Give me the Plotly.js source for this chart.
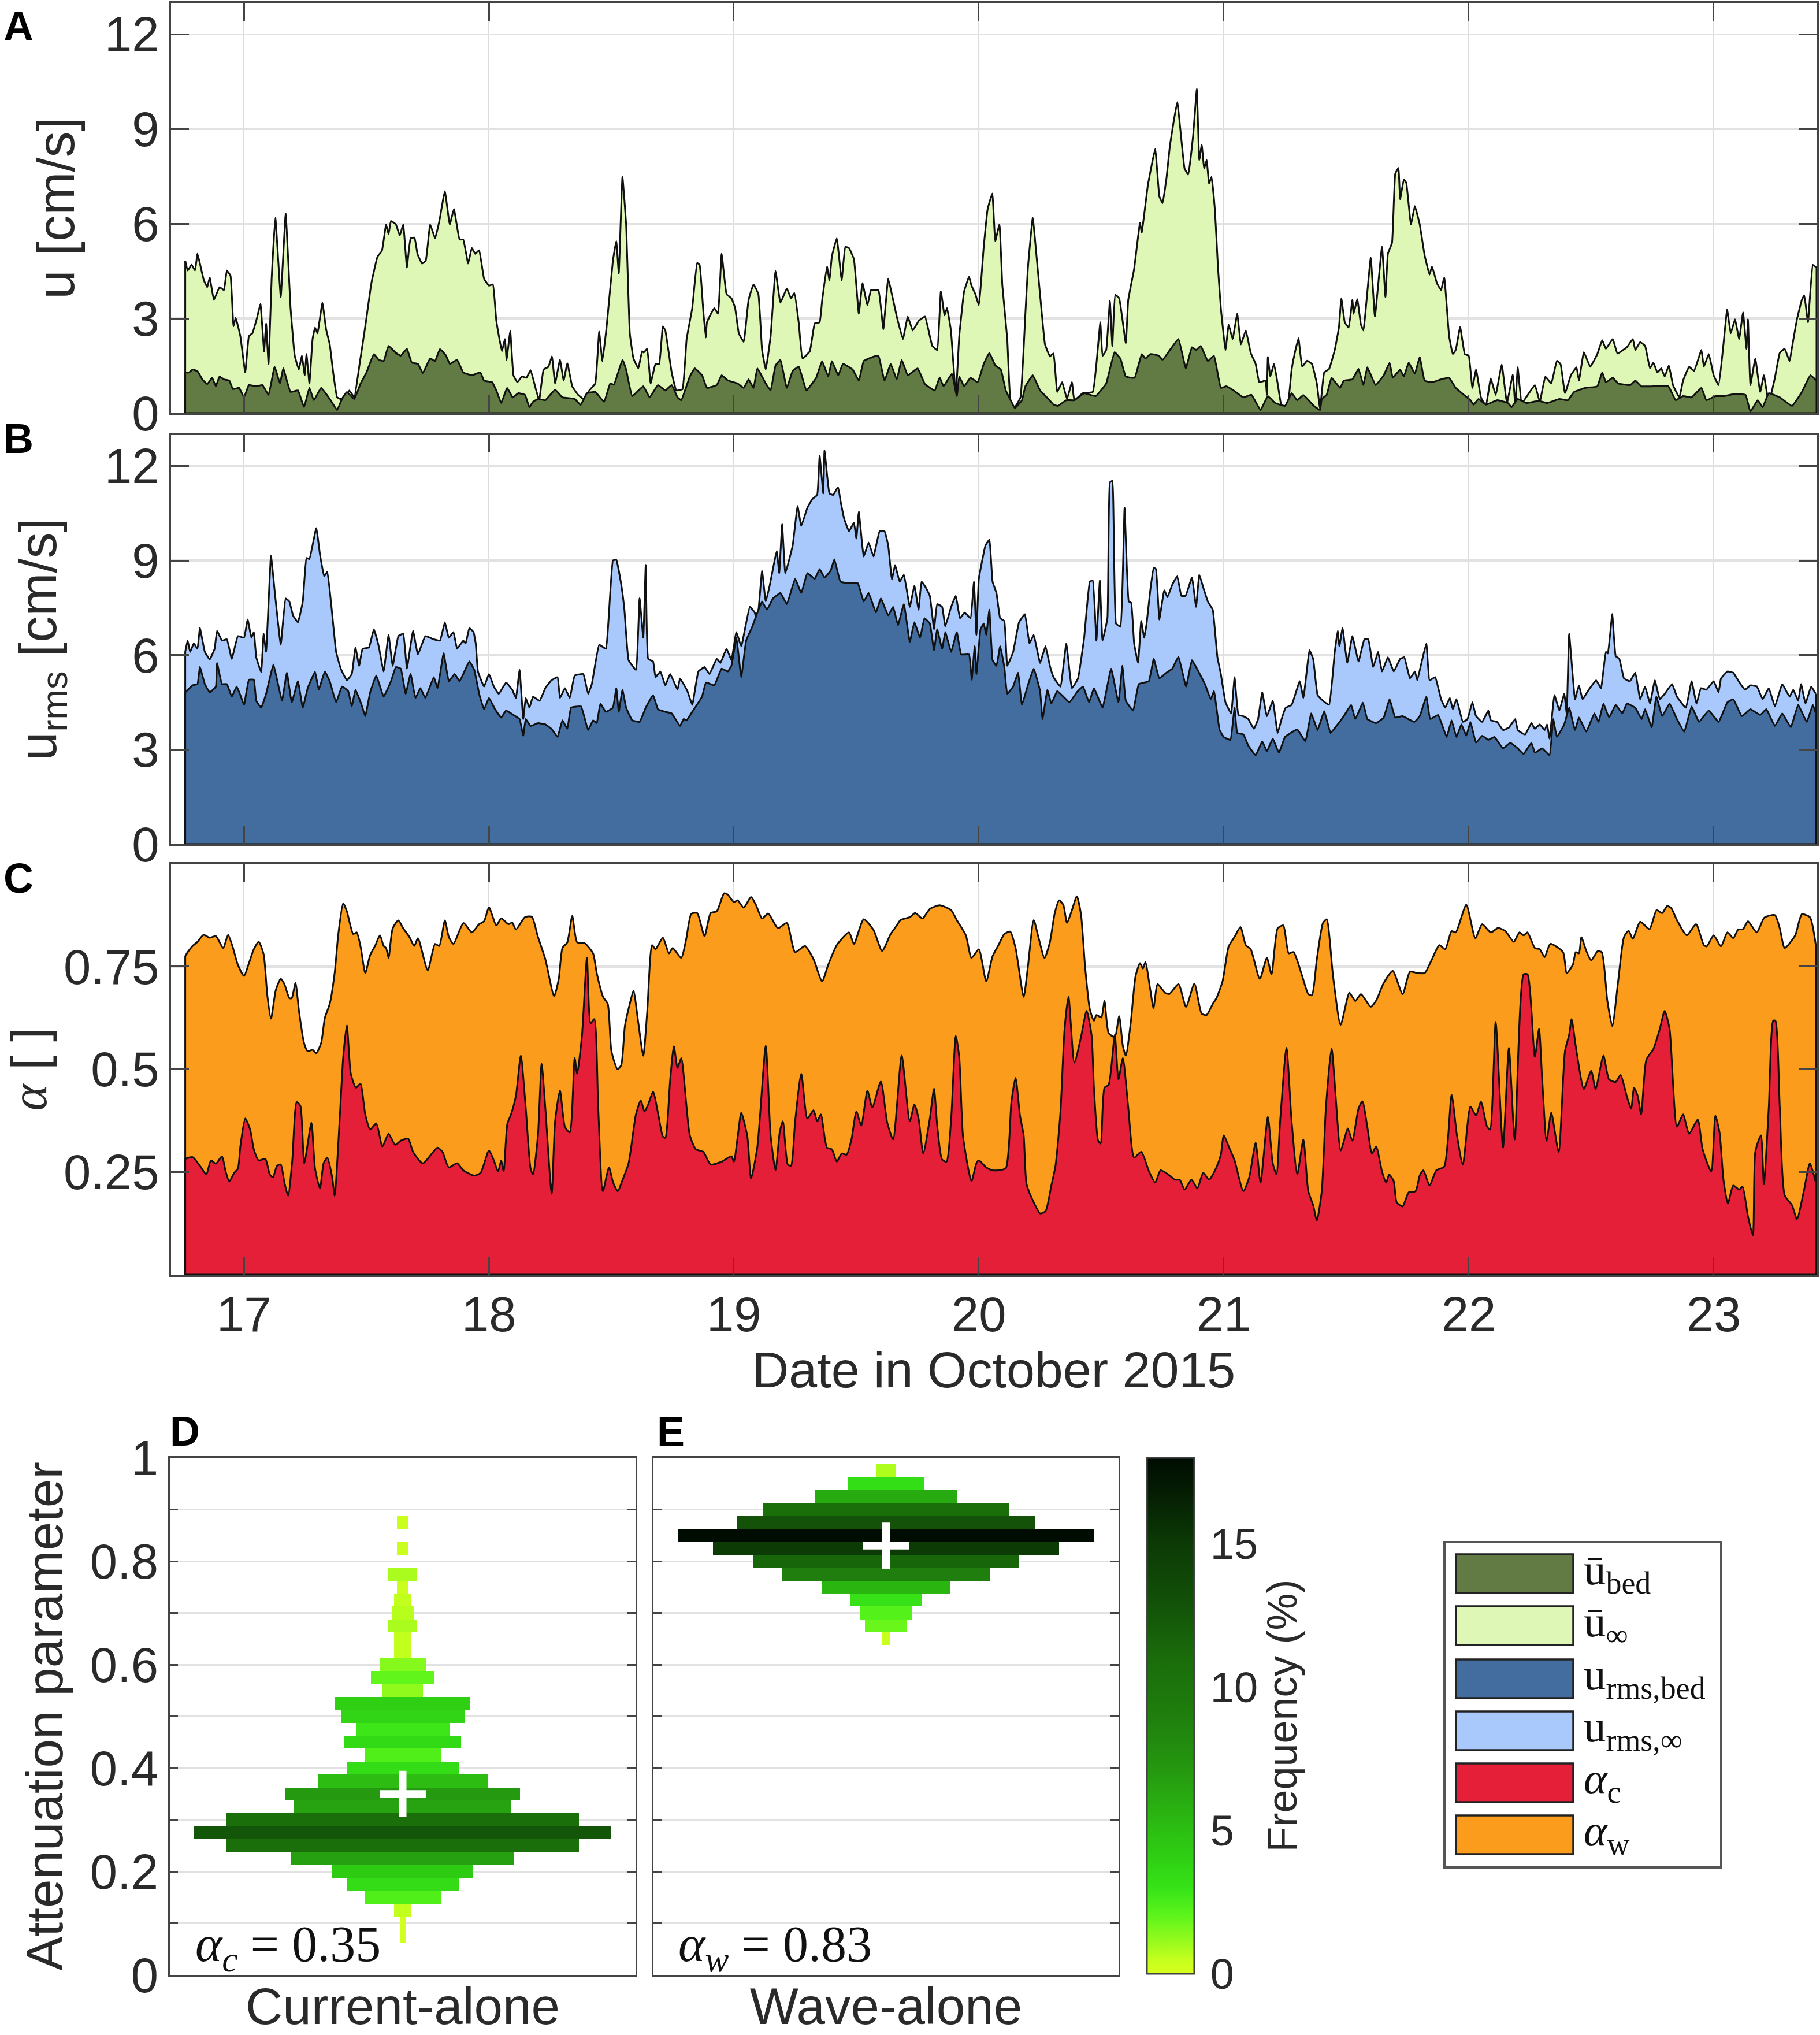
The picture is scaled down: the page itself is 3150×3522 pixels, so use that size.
<!DOCTYPE html>
<html><head><meta charset="utf-8">
<script src="https://cdn.plot.ly/plotly-3.0.1.min.js"></script>
<style>html,body{margin:0;padding:0;background:#fff}</style></head>
<body><div id="chart" style="width:3150px;height:3522px"></div>
<script>
const uInfPts=[[16.76,4.83],[16.77,4.52],[16.786,4.7],[16.8,4.52],[16.81,5.05],[16.82,4.74],[16.836,4.21],[16.85,3.99],[16.86,4.3],[16.877,3.59],[16.9,3.99],[16.918,3.9],[16.93,4.52],[16.945,4.35],[16.957,2.75],[16.966,3.02],[16.985,2.44],[17.005,1.29],[17.02,2.44],[17.034,2.53],[17.053,3.02],[17.067,3.46],[17.082,1.96],[17.09,2.84],[17.1,1.56],[17.113,4.3],[17.128,6.2],[17.15,3.68],[17.17,6.32],[17.19,3.33],[17.207,1.82],[17.224,1.38],[17.236,1.82],[17.248,1.2],[17.255,1.87],[17.267,0.94],[17.28,2.35],[17.29,2.71],[17.3,2.53],[17.32,3.5],[17.335,2.66],[17.35,2.18],[17.364,1.29],[17.38,0.5],[17.395,0.45],[17.41,0.47],[17.43,0.72],[17.45,0.5],[17.472,1.56],[17.496,2.8],[17.52,4.12],[17.545,4.96],[17.563,5.14],[17.58,5.98],[17.59,5.67],[17.6,6.09],[17.62,5.98],[17.636,5.63],[17.65,5.98],[17.665,4.61],[17.68,5.54],[17.696,5.56],[17.708,5.05],[17.727,4.74],[17.742,4.83],[17.76,5.98],[17.78,5.54],[17.797,6.07],[17.82,7.03],[17.84,5.98],[17.857,6.47],[17.88,5.5],[17.895,5.5],[17.915,4.74],[17.93,5.23],[17.944,5.05],[17.96,5.16],[17.98,4.26],[18,4.04],[18.016,4.08],[18.03,2.93],[18.053,1.96],[18.065,2.35],[18.072,1.69],[18.087,2.6],[18.1,1.2],[18.116,0.98],[18.134,1.16],[18.153,1.12],[18.17,1.36],[18.19,0.8],[18.205,0.41],[18.223,1.38],[18.243,1.47],[18.257,1.8],[18.27,0.94],[18.29,1.69],[18.305,1.03],[18.32,1.58],[18.34,0.85],[18.364,0.58],[18.386,0.45],[18.41,0.72],[18.434,0.94],[18.45,2.58],[18.463,1.65],[18.48,2.71],[18.506,4.83],[18.52,5.45],[18.53,4.43],[18.545,7.49],[18.56,5.98],[18.575,2.53],[18.59,1.73],[18.61,1.42],[18.625,1.96],[18.632,1.92],[18.646,2.04],[18.66,0.94],[18.68,1.56],[18.695,1.56],[18.71,2.75],[18.72,2.62],[18.746,1.29],[18.765,0.72],[18.79,0.76],[18.807,2.35],[18.83,3.33],[18.85,4.76],[18.86,4.7],[18.875,3.24],[18.885,2.4],[18.89,2.88],[18.92,3.33],[18.935,3.15],[18.95,5.05],[18.97,3.77],[18.99,3.64],[19.005,3.33],[19.02,2.53],[19.04,2.26],[19.06,3.59],[19.08,4.08],[19.1,3.77],[19.115,2],[19.13,1.38],[19.15,2.44],[19.17,4.5],[19.19,3.5],[19.216,3.95],[19.233,3.64],[19.247,3.81],[19.265,2.84],[19.28,1.73],[19.31,1.96],[19.33,2.84],[19.35,2.88],[19.36,3.55],[19.38,4.65],[19.39,4.21],[19.4,4.96],[19.42,5.54],[19.44,4.21],[19.455,5.27],[19.47,5.23],[19.49,4.88],[19.51,3.15],[19.525,4.12],[19.545,3.42],[19.56,3.9],[19.59,3.9],[19.61,2.66],[19.63,4.26],[19.65,3.59],[19.665,3.06],[19.69,2.35],[19.71,3.06],[19.73,2.62],[19.755,2.93],[19.78,3.06],[19.81,2.13],[19.83,2],[19.845,3.86],[19.86,3.1],[19.87,3.33],[19.886,2.62],[19.906,0.58],[19.92,2.44],[19.94,3.86],[19.96,4.32],[19.97,4.04],[19.986,3.77],[20,3.42],[20.02,5.27],[20.036,6.47],[20.055,6.96],[20.067,5.45],[20.084,5.98],[20.096,4.04],[20.116,2.35],[20.13,0.32],[20.147,0.19],[20.17,0.5],[20.19,3.15],[20.2,4.57],[20.22,6.19],[20.236,4.93],[20.255,3.33],[20.27,2.18],[20.29,1.8],[20.305,1.89],[20.32,0.67],[20.34,0.98],[20.36,0.45],[20.38,0.98],[20.39,0.41],[20.424,0.63],[20.465,0.67],[20.48,1.56],[20.496,2.88],[20.505,1.82],[20.52,2],[20.535,3.55],[20.545,2.13],[20.557,3.75],[20.573,3.64],[20.6,2.22],[20.61,3.59],[20.634,4.57],[20.658,6.03],[20.665,5.72],[20.69,7.22],[20.72,8.37],[20.737,6.87],[20.75,6.65],[20.766,7.44],[20.78,8.46],[20.81,9.85],[20.84,7.75],[20.855,7.56],[20.875,8.81],[20.89,10.27],[20.9,8.02],[20.91,8.5],[20.92,7.75],[20.93,8.02],[20.94,7.27],[20.95,7.49],[20.964,6.42],[20.976,4.65],[20.988,3.33],[21.007,2],[21.02,2.8],[21.036,2.35],[21.055,3.15],[21.07,2.18],[21.09,2.62],[21.11,1.91],[21.13,1.56],[21.145,0.98],[21.17,1.03],[21.176,0.58],[21.18,1.78],[21.19,1.16],[21.205,1.56],[21.22,0.94],[21.236,0.23],[21.26,0.23],[21.277,1.38],[21.29,1.91],[21.305,2.37],[21.32,1.47],[21.34,1.66],[21.36,1.56],[21.38,0.94],[21.393,0.14],[21.41,1.29],[21.43,1.4],[21.453,2],[21.47,2.71],[21.48,3.64],[21.494,2.88],[21.51,2.71],[21.525,3.59],[21.53,3.15],[21.545,3.61],[21.56,2.8],[21.57,2.62],[21.6,4.92],[21.617,3.06],[21.646,5.27],[21.66,3.68],[21.67,5.05],[21.687,5.4],[21.7,7.58],[21.713,7.77],[21.72,6.78],[21.735,7.4],[21.745,7.3],[21.764,5.98],[21.78,6.56],[21.8,5.98],[21.82,5],[21.84,4.39],[21.85,4.65],[21.87,4.12],[21.887,3.9],[21.9,4.3],[21.92,2.44],[21.935,1.87],[21.947,2],[21.965,2.73],[21.984,1.87],[22,1.82],[22.015,0.8],[22.03,1.38],[22.05,0.5],[22.07,0.23],[22.09,1.1],[22.11,0.58],[22.135,1.54],[22.156,0.32],[22.18,1.22],[22.19,0.23],[22.2,1.45],[22.217,0.32],[22.27,0.89],[22.29,0.36],[22.313,1.16],[22.337,0.94],[22.36,1.66],[22.375,1.55],[22.393,0.63],[22.417,1.2],[22.44,1.45],[22.45,1.03],[22.47,1.93],[22.496,1.47],[22.525,1.87],[22.545,2.31],[22.56,2.04],[22.588,2.35],[22.607,1.89],[22.646,2.09],[22.67,2.35],[22.68,2],[22.7,2.25],[22.72,2.13],[22.74,1.42],[22.754,1.6],[22.77,1.29],[22.786,1.42],[22.8,1.16],[22.817,1.51],[22.834,0.89],[22.86,0.5],[22.875,1.03],[22.9,1.47],[22.92,1.34],[22.95,2],[22.96,1.47],[22.98,1.87],[23,1.2],[23.02,0.89],[23.04,2.18],[23.055,3.28],[23.07,2.53],[23.087,2.97],[23.104,2.35],[23.12,3.19],[23.134,2.04],[23.14,2.97],[23.15,0.89],[23.17,1.73],[23.19,0.67],[23.205,1.2],[23.225,0.32],[23.25,1.12],[23.27,1.91],[23.29,2.04],[23.31,1.65],[23.32,2.09],[23.34,2.97],[23.36,3.59],[23.37,3.73],[23.385,2.88],[23.405,4.7],[23.42,4.61]];
const uBedPts=[[16.76,1.29],[16.775,1.29],[16.79,1.38],[16.81,1.33],[16.83,1.07],[16.85,0.92],[16.87,1.12],[16.885,0.85],[16.9,1.16],[16.918,1.07],[16.94,1.03],[16.955,0.76],[16.98,0.8],[17,0.5],[17.02,0.89],[17.05,0.85],[17.075,0.89],[17.1,0.58],[17.125,1.47],[17.147,0.94],[17.16,1.42],[17.19,0.67],[17.22,0.72],[17.245,0.19],[17.267,0.8],[17.285,0.41],[17.315,0.8],[17.35,0.45],[17.38,0.1],[17.4,0.45],[17.42,0.67],[17.45,0.45],[17.476,0.94],[17.5,1.29],[17.53,1.87],[17.55,1.69],[17.57,1.65],[17.59,2.13],[17.62,1.91],[17.64,1.82],[17.665,2.04],[17.685,1.6],[17.71,1.56],[17.73,1.27],[17.76,1.73],[17.78,1.65],[17.8,2.03],[17.825,1.82],[17.84,1.56],[17.87,1.69],[17.895,1.29],[17.93,1.2],[17.965,1.29],[17.98,1.03],[18.013,0.98],[18.03,0.72],[18.05,0.32],[18.074,0.8],[18.097,0.5],[18.12,0.63],[18.147,0.58],[18.165,0.19],[18.18,0.36],[18.2,0.45],[18.23,0.41],[18.27,0.74],[18.3,0.5],[18.35,0.45],[18.374,0.26],[18.4,0.63],[18.434,0.67],[18.47,0.36],[18.495,0.94],[18.51,0.9],[18.545,1.69],[18.56,1.38],[18.585,0.54],[18.63,0.85],[18.656,0.5],[18.69,0.89],[18.72,0.72],[18.746,0.89],[18.77,0.5],[18.785,0.41],[18.82,1.16],[18.84,1.42],[18.87,1.2],[18.89,0.8],[18.93,0.89],[18.95,1.2],[18.975,1.04],[19.015,0.94],[19.04,0.8],[19.06,1.07],[19.08,0.8],[19.096,1.42],[19.13,0.94],[19.15,0.72],[19.17,1.51],[19.19,1.69],[19.216,0.8],[19.24,1.34],[19.265,1.47],[19.296,0.72],[19.336,1.12],[19.36,1.65],[19.385,1.16],[19.4,1.65],[19.426,1.2],[19.445,1.56],[19.485,1.38],[19.51,1.03],[19.53,1.65],[19.567,1.78],[19.59,1.82],[19.615,1.03],[19.64,1.56],[19.665,1.07],[19.685,1.69],[19.71,1.2],[19.75,1.42],[19.78,0.92],[19.82,0.72],[19.84,1.13],[19.856,0.85],[19.89,1.25],[19.91,0.54],[19.92,1.16],[19.94,0.85],[19.966,1.12],[19.995,0.98],[20.02,1.56],[20.043,1.91],[20.067,1.51],[20.09,1.38],[20.11,0.72],[20.13,0.41],[20.147,0.16],[20.176,0.41],[20.19,0.85],[20.22,1.2],[20.25,0.72],[20.284,0.45],[20.305,0.27],[20.323,0.23],[20.357,0.41],[20.39,0.41],[20.43,0.63],[20.477,0.54],[20.52,0.94],[20.554,1.93],[20.578,1.73],[20.6,1.16],[20.636,1.12],[20.665,1.87],[20.68,1.73],[20.7,1.87],[20.735,1.82],[20.75,1.69],[20.78,2],[20.815,2.35],[20.845,1.42],[20.87,2.09],[20.887,2],[20.906,2.13],[20.935,1.65],[20.96,1.82],[20.988,0.8],[21.01,0.85],[21.04,0.72],[21.08,0.5],[21.113,0.58],[21.15,0.1],[21.18,0.54],[21.21,0.32],[21.25,0.23],[21.277,0.63],[21.3,0.41],[21.325,0.57],[21.368,0.23],[21.393,0.1],[21.4,0.45],[21.42,0.58],[21.44,1.12],[21.475,0.8],[21.49,1.03],[21.525,1.07],[21.55,1.4],[21.57,0.89],[21.586,1.45],[21.62,0.89],[21.653,1.2],[21.677,1.6],[21.69,1.12],[21.72,1.38],[21.735,1.16],[21.755,1.6],[21.78,1.25],[21.8,1.78],[21.82,1.03],[21.85,0.98],[21.887,1.07],[21.92,1.12],[21.947,0.8],[21.98,0.58],[22.007,0.41],[22.02,0.27],[22.04,0.45],[22.07,0.27],[22.117,0.41],[22.16,0.32],[22.175,0.19],[22.2,0.45],[22.235,0.32],[22.285,0.39],[22.32,0.32],[22.37,0.45],[22.405,0.41],[22.43,0.67],[22.476,0.8],[22.525,0.85],[22.545,1.29],[22.56,0.98],[22.588,1.12],[22.61,0.94],[22.66,0.89],[22.68,1.03],[22.705,0.85],[22.754,0.85],[22.815,0.85],[22.845,0.41],[22.875,0.54],[22.91,0.5],[22.95,0.8],[22.97,0.41],[23.007,0.54],[23.043,0.54],[23.08,0.6],[23.13,0.58],[23.15,0.05],[23.18,0.41],[23.2,0.19],[23.225,0.63],[23.27,0.5],[23.32,0.23],[23.36,0.67],[23.395,1.2],[23.42,1.03]];
const urmsInfPts=[[16.76,6.1],[16.77,6.46],[16.78,6.1],[16.795,6.37],[16.81,6.2],[16.82,6.86],[16.84,6.1],[16.86,5.86],[16.88,6.2],[16.89,6.77],[16.91,6.46],[16.93,6.5],[16.95,5.88],[16.975,6.6],[17,6.55],[17.015,7.13],[17.03,6.55],[17.04,6.73],[17.05,5.93],[17.07,5.46],[17.08,6.68],[17.09,6.1],[17.11,9.15],[17.126,7.97],[17.15,6.33],[17.17,7.8],[17.185,7.7],[17.2,7.26],[17.22,7.04],[17.24,7.7],[17.255,9.08],[17.267,9.05],[17.295,10.03],[17.31,9.2],[17.327,8.5],[17.34,8.64],[17.357,7.53],[17.376,6.1],[17.395,5.57],[17.42,5.2],[17.44,5.4],[17.455,6.24],[17.47,5.66],[17.484,6.2],[17.51,6.24],[17.53,6.82],[17.55,6.28],[17.57,5.48],[17.59,6.64],[17.607,5.66],[17.63,6.6],[17.65,6.68],[17.665,5.57],[17.69,6.77],[17.71,6.02],[17.74,6.6],[17.775,6.5],[17.8,6.46],[17.82,7.04],[17.836,6.55],[17.855,6.73],[17.87,6.2],[17.895,6.46],[17.905,6.37],[17.92,6.86],[17.937,6.73],[17.946,6.37],[17.955,5.48],[17.98,5],[18,5.4],[18.02,5],[18.04,4.77],[18.07,5.13],[18.095,4.9],[18.11,4.64],[18.125,5.53],[18.14,3.97],[18.15,4.64],[18.165,4.33],[18.18,4.68],[18.207,4.55],[18.23,4.95],[18.255,5.2],[18.28,5.3],[18.29,4.64],[18.31,4.95],[18.33,4.64],[18.35,5.35],[18.385,5.4],[18.405,4.77],[18.42,5.08],[18.45,6.33],[18.477,6.2],[18.506,9],[18.52,9.02],[18.54,8.24],[18.553,7.44],[18.57,5.84],[18.6,5.53],[18.615,7.8],[18.63,6.55],[18.64,8.86],[18.65,5.88],[18.67,5.8],[18.68,5.3],[18.7,5.48],[18.72,5.04],[18.74,5.4],[18.77,4.9],[18.78,5.26],[18.81,4.86],[18.83,4.42],[18.855,5.48],[18.88,5.62],[18.9,5.4],[18.93,5.88],[18.945,5.75],[18.97,6.2],[18.99,5.84],[19.01,6.73],[19.03,6.28],[19.065,7.53],[19.085,7.35],[19.095,7],[19.115,8.67],[19.13,7.7],[19.146,8.2],[19.175,9.3],[19.185,8.6],[19.197,10.15],[19.21,8.6],[19.24,9.48],[19.26,10.73],[19.275,10.1],[19.3,10.68],[19.32,10.95],[19.34,11.08],[19.35,12.33],[19.365,11.13],[19.37,12.5],[19.39,11.13],[19.405,11.08],[19.425,11.33],[19.437,10.82],[19.45,10.33],[19.47,9.93],[19.49,10.2],[19.5,9.7],[19.51,10.55],[19.53,9.13],[19.55,9.57],[19.57,9.13],[19.595,9.93],[19.615,9.93],[19.63,9.48],[19.645,8.4],[19.658,8.86],[19.677,8.33],[19.694,8.55],[19.718,7.53],[19.737,8.2],[19.754,7.44],[19.766,8.33],[19.783,8.15],[19.8,7.88],[19.817,6.82],[19.83,7.62],[19.85,7.53],[19.863,6.91],[19.887,7.53],[19.906,7.88],[19.923,7.17],[19.942,7.35],[19.966,7.17],[19.98,8.33],[19.99,6.64],[20,8.42],[20.027,9.48],[20.043,9.66],[20.056,8.33],[20.072,7.97],[20.087,7.17],[20.104,7.08],[20.116,5.66],[20.14,6.1],[20.164,7.04],[20.188,7.3],[20.207,6.37],[20.224,6.64],[20.25,5.75],[20.272,6.28],[20.29,5.66],[20.305,5.3],[20.333,5],[20.357,6.37],[20.38,4.95],[20.405,5.26],[20.43,6.55],[20.453,8.33],[20.465,8.37],[20.48,6.46],[20.494,8.37],[20.505,6.46],[20.525,7.17],[20.535,11.48],[20.545,11.53],[20.56,7],[20.578,6.9],[20.595,10.68],[20.612,7.7],[20.622,7.66],[20.634,6.37],[20.65,5.75],[20.663,7.08],[20.675,6.55],[20.685,7],[20.7,8.06],[20.714,8.77],[20.723,8.73],[20.737,7.13],[20.757,8.06],[20.77,7.84],[20.79,8.24],[20.81,8.5],[20.827,7.88],[20.844,7.88],[20.87,8.46],[20.887,7.53],[20.9,8.55],[20.916,8.15],[20.935,7.7],[20.955,7.44],[20.974,5.93],[20.988,5.4],[21.007,4.5],[21.03,4.15],[21.044,5.3],[21.06,4.1],[21.08,4.06],[21.1,3.97],[21.123,3.66],[21.14,3.97],[21.157,4.82],[21.176,4.06],[21.2,4.55],[21.22,3.53],[21.236,3.97],[21.253,4.33],[21.277,4.42],[21.31,5.17],[21.325,4.64],[21.35,6.15],[21.365,5.88],[21.383,4.73],[21.405,4.55],[21.43,4.42],[21.453,6.1],[21.465,6.77],[21.472,6.28],[21.485,6.86],[21.504,5.75],[21.525,6.6],[21.55,5.8],[21.574,6.5],[21.59,6.5],[21.61,5.62],[21.63,6.1],[21.646,5.48],[21.67,5.93],[21.694,5.48],[21.72,5.88],[21.737,5.93],[21.76,5.26],[21.78,5.48],[21.79,5.2],[21.807,5.75],[21.827,6.37],[21.84,5.2],[21.863,5.3],[21.887,4.6],[21.904,4.33],[21.923,4.64],[21.935,4.28],[21.95,4.6],[21.976,3.88],[21.995,3.97],[22.015,4.5],[22.03,4.06],[22.055,3.88],[22.08,4.24],[22.09,3.93],[22.116,3.88],[22.14,3.62],[22.164,3.7],[22.19,3.97],[22.2,3.62],[22.23,3.48],[22.256,3.84],[22.27,3.66],[22.29,3.8],[22.31,3.62],[22.32,3.8],[22.33,3.35],[22.35,4.73],[22.37,4.24],[22.39,4.77],[22.4,4.15],[22.41,6.68],[22.434,4.6],[22.45,5.04],[22.465,4.6],[22.49,4.9],[22.52,5.2],[22.54,4.95],[22.56,6.1],[22.568,6.05],[22.586,7.3],[22.6,5.97],[22.615,5.88],[22.634,5.26],[22.658,5.17],[22.68,5.44],[22.7,4.6],[22.72,5],[22.74,4.46],[22.76,5.2],[22.78,4.6],[22.8,4.77],[22.83,5.08],[22.85,4.68],[22.875,4.42],[22.887,4.33],[22.91,5.17],[22.93,4.46],[22.948,4.95],[22.97,4.9],[23,5.17],[23.02,4.82],[23.03,5.26],[23.056,5.48],[23.08,5.44],[23.105,5.13],[23.128,4.9],[23.15,5.04],[23.177,5],[23.2,4.6],[23.225,4.95],[23.25,4.37],[23.28,5.08],[23.31,4.68],[23.325,4.9],[23.345,4.55],[23.357,5.08],[23.375,4.46],[23.398,5],[23.417,4.77]];
const urmsBedPts=[[16.76,4.82],[16.79,5.04],[16.81,5.08],[16.82,5.62],[16.84,5.08],[16.86,4.82],[16.885,5],[16.89,5.75],[16.91,5.08],[16.93,5.08],[16.95,4.68],[16.97,5],[16.985,4.73],[17,4.42],[17.02,5.22],[17.04,5.22],[17.05,4.55],[17.07,4.33],[17.09,4.77],[17.12,5.7],[17.135,5.22],[17.155,4.55],[17.175,5.44],[17.195,4.5],[17.22,5.17],[17.24,4.33],[17.26,4.95],[17.29,5.47],[17.305,4.9],[17.33,5.48],[17.35,5.17],[17.376,4.5],[17.4,5],[17.425,4.86],[17.44,4.37],[17.455,4.9],[17.48,4.42],[17.495,4.06],[17.515,4.82],[17.54,5.35],[17.57,4.68],[17.6,5.17],[17.62,5.62],[17.64,5.57],[17.66,4.77],[17.68,5.4],[17.7,4.64],[17.72,4.95],[17.74,4.64],[17.775,5.3],[17.79,4.95],[17.815,6.06],[17.836,5.17],[17.86,5.4],[17.88,5.17],[17.92,5.8],[17.94,5.53],[17.96,4.77],[17.98,4.28],[18,4.64],[18.025,4.28],[18.05,4.02],[18.07,4.24],[18.1,4.1],[18.125,3.97],[18.14,3.44],[18.15,3.97],[18.17,3.75],[18.2,3.84],[18.23,3.8],[18.255,3.66],[18.28,3.4],[18.3,3.93],[18.32,3.66],[18.335,4.33],[18.376,4.37],[18.405,3.62],[18.425,3.93],[18.44,3.84],[18.455,4.46],[18.477,4.2],[18.506,4.33],[18.52,4.95],[18.53,4.2],[18.545,4.9],[18.56,4.33],[18.585,3.93],[18.615,3.88],[18.64,4.33],[18.67,4.73],[18.69,4.28],[18.72,4.2],[18.746,4.15],[18.78,3.75],[18.795,3.97],[18.807,3.93],[18.83,4.2],[18.87,4.68],[18.886,5.13],[18.92,5.04],[18.95,5.57],[18.975,5.48],[18.99,5.66],[19.01,6.55],[19.03,5.3],[19.05,6.46],[19.075,6.9],[19.096,7.35],[19.115,7.7],[19.135,7.44],[19.16,7.8],[19.19,7.97],[19.216,7.62],[19.25,8.42],[19.275,7.97],[19.3,8.6],[19.33,8.42],[19.35,8.73],[19.37,8.46],[19.395,8.68],[19.41,9.04],[19.435,8.33],[19.47,8.28],[19.506,8.28],[19.53,7.7],[19.55,7.97],[19.58,7.35],[19.6,7.8],[19.63,7.26],[19.65,7.53],[19.67,6.95],[19.694,7.62],[19.718,6.42],[19.737,7.04],[19.76,6.55],[19.778,7.17],[19.8,7],[19.817,6.15],[19.83,6.82],[19.85,6.2],[19.863,6.73],[19.887,6.1],[19.91,6.73],[19.928,6.02],[19.96,6.02],[19.971,5.22],[19.983,6.28],[19.99,5.4],[20.007,6.82],[20.02,7],[20.03,6.64],[20.043,7.44],[20.056,5.84],[20.072,5.66],[20.087,6.28],[20.104,5.62],[20.116,4.77],[20.14,5],[20.16,5.44],[20.176,4.42],[20.2,5.04],[20.224,5.57],[20.25,4.86],[20.26,3.97],[20.28,4.9],[20.296,4.46],[20.32,4.86],[20.345,4.68],[20.37,4.5],[20.4,4.82],[20.425,5],[20.45,4.5],[20.47,4.95],[20.505,4.33],[20.54,5.57],[20.57,4.5],[20.586,5.66],[20.6,4.55],[20.63,4.24],[20.653,5.08],[20.694,5.17],[20.714,5.88],[20.737,5.26],[20.766,5.44],[20.79,5.57],[20.815,5.95],[20.846,5],[20.87,5.84],[20.887,5.62],[20.923,5.08],[20.947,4.6],[20.96,4.86],[20.983,3.62],[21,3.4],[21.027,3.31],[21.044,4.33],[21.055,3.53],[21.08,3.48],[21.1,3.13],[21.13,2.82],[21.157,3.26],[21.176,2.95],[21.2,3.35],[21.225,2.9],[21.25,3.4],[21.3,3.64],[21.333,3.26],[21.357,4.15],[21.383,3.62],[21.41,4.22],[21.436,3.53],[21.465,3.8],[21.49,4.06],[21.52,4.42],[21.537,3.97],[21.568,4.49],[21.586,3.97],[21.622,3.84],[21.653,4.02],[21.677,4.6],[21.7,4.02],[21.73,4.06],[21.778,3.88],[21.8,4.06],[21.827,4.68],[21.843,3.97],[21.875,4.1],[21.91,3.4],[21.93,3.93],[21.95,3.4],[21.97,3.8],[21.99,3.44],[22.007,3.88],[22.03,3.22],[22.055,3.44],[22.08,3.31],[22.105,3.4],[22.14,3.04],[22.17,3.22],[22.2,3.04],[22.224,2.86],[22.256,3.22],[22.27,2.9],[22.3,3.04],[22.33,2.82],[22.345,3.97],[22.36,3.4],[22.39,3.8],[22.41,4.33],[22.434,3.62],[22.45,4.02],[22.48,3.57],[22.513,4.15],[22.53,3.88],[22.55,4.46],[22.573,4.02],[22.6,4.42],[22.627,4.15],[22.646,4.46],[22.68,4.33],[22.706,3.97],[22.72,4.28],[22.747,3.71],[22.766,4.68],[22.79,4.06],[22.82,4.46],[22.85,3.97],[22.88,3.57],[22.91,4.37],[22.94,3.88],[22.98,4.24],[23.02,3.88],[23.056,4.5],[23.08,4.6],[23.115,4.06],[23.15,4.28],[23.19,4.1],[23.215,4.28],[23.25,3.75],[23.28,4.15],[23.315,3.71],[23.345,4.42],[23.38,3.88],[23.405,4.42],[23.417,4.15]];
const alphaWPts=[[16.76,.775],[16.77,.785],[16.79,.8],[16.81,.81],[16.835,.827],[16.86,.82],[16.885,.824],[16.915,.795],[16.935,.827],[16.955,.795],[16.975,.754],[17,.727],[17.02,.758],[17.04,.792],[17.06,.81],[17.08,.78],[17.095,.68],[17.11,.623],[17.13,.693],[17.15,.72],[17.165,.707],[17.185,.673],[17.195,.673],[17.21,.71],[17.225,.639],[17.245,.564],[17.26,.544],[17.28,.547],[17.295,.539],[17.315,.564],[17.33,.625],[17.35,.659],[17.37,.734],[17.385,.829],[17.405,.904],[17.42,.884],[17.446,.829],[17.46,.833],[17.477,.795],[17.495,.734],[17.515,.778],[17.535,.8],[17.555,.826],[17.57,.8],[17.58,.795],[17.59,.771],[17.607,.843],[17.63,.862],[17.65,.843],[17.675,.822],[17.695,.8],[17.71,.819],[17.75,.741],[17.78,.805],[17.797,.8],[17.82,.862],[17.836,.822],[17.855,.805],[17.896,.856],[17.93,.833],[17.96,.853],[17.98,.86],[18,.894],[18.03,.85],[18.05,.867],[18.08,.853],[18.095,.857],[18.11,.84],[18.147,.87],[18.175,.871],[18.2,.822],[18.23,.768],[18.266,.678],[18.285,.72],[18.3,.795],[18.32,.809],[18.34,.873],[18.36,.809],[18.39,.807],[18.425,.782],[18.44,.734],[18.466,.676],[18.485,.659],[18.5,.544],[18.525,.5],[18.54,.51],[18.555,.605],[18.575,.659],[18.59,.691],[18.61,.612],[18.63,.533],[18.646,.639],[18.666,.802],[18.68,.792],[18.71,.82],[18.735,.782],[18.75,.795],[18.785,.771],[18.805,.816],[18.826,.878],[18.85,.88],[18.88,.824],[18.905,.88],[18.93,.884],[18.96,.928],[18.975,.925],[19,.907],[19.015,.911],[19.04,.893],[19.07,.919],[19.09,.9],[19.115,.867],[19.14,.879],[19.18,.843],[19.216,.856],[19.25,.785],[19.29,.8],[19.325,.768],[19.36,.714],[19.385,.754],[19.42,.802],[19.47,.833],[19.49,.805],[19.53,.865],[19.57,.839],[19.605,.788],[19.64,.829],[19.665,.85],[19.68,.863],[19.718,.87],[19.74,.88],[19.77,.867],[19.8,.89],[19.84,.899],[19.887,.887],[19.91,.863],[19.947,.826],[19.97,.771],[20,.792],[20.03,.714],[20.056,.775],[20.08,.802],[20.104,.829],[20.128,.835],[20.15,.795],[20.183,.676],[20.2,.748],[20.224,.863],[20.243,.822],[20.268,.771],[20.29,.809],[20.31,.88],[20.328,.911],[20.345,.9],[20.36,.856],[20.38,.887],[20.4,.921],[20.417,.877],[20.434,.748],[20.453,.646],[20.47,.618],[20.48,.632],[20.5,.626],[20.513,.666],[20.53,.588],[20.555,.578],[20.573,.629],[20.588,.557],[20.6,.533],[20.62,.612],[20.64,.727],[20.658,.758],[20.67,.745],[20.68,.761],[20.7,.693],[20.713,.649],[20.73,.707],[20.76,.686],[20.778,.683],[20.815,.707],[20.846,.652],[20.88,.708],[20.91,.635],[20.93,.632],[20.955,.659],[20.97,.673],[20.995,.714],[21.02,.799],[21.044,.822],[21.068,.846],[21.09,.802],[21.11,.792],[21.147,.72],[21.176,.771],[21.195,.731],[21.22,.843],[21.243,.85],[21.265,.782],[21.285,.785],[21.32,.727],[21.345,.683],[21.36,.68],[21.38,.768],[21.405,.856],[21.42,.865],[21.446,.727],[21.477,.608],[21.513,.686],[21.537,.666],[21.56,.683],[21.6,.652],[21.622,.667],[21.653,.71],[21.69,.739],[21.73,.683],[21.76,.737],[21.79,.734],[21.82,.734],[21.85,.768],[21.88,.802],[21.904,.792],[21.93,.836],[21.947,.833],[21.99,.9],[22.027,.819],[22.055,.853],[22.09,.833],[22.12,.844],[22.15,.836],[22.184,.81],[22.207,.833],[22.224,.826],[22.24,.833],[22.27,.795],[22.29,.792],[22.31,.773],[22.333,.805],[22.385,.785],[22.4,.734],[22.425,.754],[22.437,.785],[22.45,.782],[22.46,.821],[22.48,.788],[22.5,.765],[22.526,.787],[22.543,.785],[22.566,.666],[22.586,.605],[22.61,.714],[22.634,.822],[22.653,.837],[22.67,.817],[22.7,.859],[22.738,.841],[22.767,.887],[22.79,.88],[22.81,.897],[22.826,.893],[22.85,.863],[22.89,.826],[22.928,.853],[22.96,.802],[22.972,.799],[23,.826],[23.03,.799],[23.056,.833],[23.08,.819],[23.1,.84],[23.12,.841],[23.14,.86],[23.176,.833],[23.207,.869],[23.25,.875],[23.27,.843],[23.29,.795],[23.333,.826],[23.36,.877],[23.393,.87],[23.417,.802]];
const alphaCPts=[[16.76,.282],[16.79,.286],[16.82,.265],[16.846,.244],[16.865,.278],[16.885,.27],[16.91,.288],[16.925,.251],[16.94,.227],[16.96,.248],[16.975,.258],[16.985,.312],[17.005,.38],[17.025,.353],[17.04,.305],[17.06,.278],[17.087,.282],[17.105,.244],[17.118,.237],[17.135,.265],[17.15,.268],[17.165,.224],[17.18,.192],[17.197,.278],[17.215,.42],[17.23,.411],[17.246,.271],[17.275,.37],[17.29,.258],[17.31,.21],[17.325,.271],[17.34,.285],[17.36,.237],[17.37,.192],[17.39,.373],[17.405,.53],[17.42,.607],[17.436,.489],[17.457,.455],[17.475,.465],[17.495,.39],[17.515,.353],[17.54,.368],[17.565,.312],[17.59,.343],[17.617,.316],[17.64,.326],[17.67,.331],[17.69,.299],[17.73,.271],[17.79,.309],[17.81,.299],[17.836,.261],[17.87,.271],[17.895,.254],[17.94,.241],[17.966,.248],[18,.302],[18.02,.278],[18.037,.251],[18.05,.278],[18.06,.251],[18.075,.367],[18.09,.39],[18.11,.435],[18.13,.533],[18.15,.407],[18.17,.258],[18.18,.244],[18.2,.339],[18.215,.513],[18.23,.407],[18.256,.197],[18.27,.373],[18.29,.448],[18.31,.36],[18.33,.346],[18.35,.527],[18.36,.489],[18.38,.584],[18.4,.771],[18.415,.612],[18.43,.622],[18.446,.407],[18.465,.203],[18.49,.261],[18.507,.224],[18.526,.203],[18.543,.227],[18.57,.271],[18.6,.39],[18.62,.424],[18.635,.397],[18.65,.414],[18.67,.445],[18.69,.394],[18.71,.336],[18.72,.333],[18.74,.475],[18.755,.556],[18.77,.503],[18.785,.527],[18.82,.339],[18.845,.305],[18.875,.299],[18.905,.268],[18.95,.275],[18.99,.288],[19,.275],[19.015,.333],[19.03,.394],[19.055,.336],[19.07,.234],[19.096,.312],[19.13,.557],[19.15,.339],[19.17,.254],[19.187,.346],[19.2,.373],[19.22,.268],[19.233,.265],[19.25,.373],[19.275,.489],[19.3,.38],[19.325,.4],[19.34,.373],[19.355,.39],[19.38,.309],[19.4,.305],[19.42,.275],[19.44,.295],[19.46,.292],[19.48,.329],[19.5,.397],[19.52,.363],[19.545,.448],[19.565,.407],[19.6,.47],[19.626,.37],[19.65,.329],[19.685,.533],[19.718,.373],[19.737,.414],[19.754,.38],[19.773,.295],[19.8,.38],[19.817,.453],[19.83,.363],[19.85,.28],[19.868,.275],[19.887,.38],[19.906,.581],[19.92,.53],[19.935,.339],[19.96,.248],[19.97,.227],[19.99,.271],[20,.278],[20.03,.261],[20.056,.254],[20.08,.254],[20.11,.259],[20.133,.421],[20.15,.479],[20.168,.387],[20.183,.339],[20.195,.22],[20.224,.176],[20.25,.149],[20.272,.154],[20.296,.217],[20.313,.265],[20.333,.394],[20.35,.598],[20.366,.676],[20.39,.516],[20.417,.578],[20.44,.642],[20.46,.584],[20.47,.455],[20.487,.326],[20.497,.319],[20.513,.455],[20.53,.462],[20.555,.584],[20.57,.475],[20.588,.527],[20.61,.407],[20.634,.285],[20.663,.299],[20.695,.251],[20.72,.224],[20.742,.254],[20.78,.241],[20.8,.231],[20.82,.231],[20.84,.207],[20.868,.231],[20.892,.21],[20.916,.248],[20.94,.231],[20.97,.261],[20.988,.292],[21,.339],[21.02,.312],[21.044,.278],[21.08,.203],[21.104,.237],[21.13,.321],[21.15,.224],[21.18,.384],[21.2,.271],[21.215,.244],[21.23,.373],[21.256,.552],[21.277,.373],[21.3,.244],[21.325,.329],[21.345,.203],[21.365,.169],[21.38,.132],[21.4,.203],[21.417,.407],[21.44,.55],[21.477,.302],[21.494,.333],[21.506,.356],[21.525,.326],[21.55,.404],[21.566,.422],[21.586,.36],[21.605,.295],[21.622,.312],[21.646,.251],[21.663,.224],[21.675,.244],[21.694,.227],[21.706,.176],[21.73,.166],[21.755,.2],[21.783,.203],[21.8,.241],[21.815,.254],[21.84,.217],[21.868,.254],[21.9,.263],[21.93,.438],[21.952,.339],[21.976,.268],[22.007,.409],[22.03,.387],[22.05,.421],[22.075,.36],[22.087,.353],[22.11,.615],[22.14,.309],[22.164,.552],[22.188,.329],[22.224,.731],[22.24,.731],[22.27,.53],[22.287,.598],[22.3,.475],[22.318,.326],[22.337,.394],[22.367,.299],[22.393,.544],[22.41,.584],[22.42,.622],[22.44,.544],[22.47,.452],[22.5,.496],[22.518,.452],[22.55,.533],[22.573,.475],[22.6,.469],[22.62,.486],[22.645,.435],[22.663,.404],[22.675,.455],[22.69,.435],[22.704,.39],[22.725,.523],[22.754,.549],[22.78,.598],[22.8,.642],[22.82,.598],[22.85,.36],[22.875,.39],[22.9,.343],[22.935,.377],[22.955,.305],[22.99,.251],[23.007,.387],[23.024,.346],[23.04,.231],[23.058,.173],[23.08,.217],[23.104,.207],[23.118,.214],[23.14,.142],[23.16,.096],[23.17,.299],[23.193,.339],[23.205,.22],[23.225,.407],[23.243,.618],[23.252,.618],[23.27,.407],[23.29,.193],[23.32,.169],[23.34,.135],[23.368,.203],[23.393,.271],[23.417,.224]];

const attenBinsD=[.075,.1,.125,.15,.175,.2,.225,.25,.275,.3,.325,.35,.375,.4,.425,.45,.475,.5,.525,.55,.575,.6,.625,.65,.675,.7,.725,.75,.775,.825,.875];
const freqD=[.18,.18,.53,2.32,3.38,4.28,6.75,10.68,12.64,10.68,6.57,7.10,5.14,3.38,2.32,3.55,2.85,3.73,4.08,1.23,1.94,1.41,.53,.53,.88,.68,.53,.35,.88,.35,.35];
const attenBinsE=[.65,.675,.7,.725,.75,.775,.8,.825,.85,.875,.9,.925,.95,.975];
const freqE=[.38,1.83,2.25,3.05,5.52,8.98,11.46,14.92,17.97,12.87,10.62,6.13,3.24,.80];
const meanAlphaC=0.35, meanAlphaW=0.83;

const dayTicks=[17,18,19,20,21,22,23];
const speedTicks=[0,3,6,9,12];
const alphaTicks=[.25,.5,.75];
const alphaTickText=['0.25','0.5','0.75'];
const attenTicks=[0,.2,.4,.6,.8,1];
const attenTickText=['0','0.2','0.4','0.6','0.8','1'];
const attenMinor=[.1,.3,.5,.7,.9];
const freqTicks=[0,5,10,15];
const colourFreq=[0,.5,1,2,3,4,5,7,9,11,13,15,17,18];
const colourHex=['#d8ff1e','#c4ff1d','#a0fb1d','#5ef51b','#36e317','#2fd014','#2cbf12','#259a10','#1f7e0d','#1a6c0b','#125008','#0c3a06','#041a03','#000c02'];
const legendLabels=['ū<sub>bed</sub>','ū<sub>∞</sub>','u<sub>rms,bed</sub>','u<sub>rms,∞</sub>','<i>α</i><sub>c</sub>','<i>α</i><sub>w</sub>'];
const legendColours=['#627A43','#DFF7B6','#446D9F','#A9C9FC','#E51F38','#FB9C1C'];

const W=3150,H=3522;
const px=v=>v/W, py=v=>1-v/H;
const xs=a=>a.map(p=>p[0]), ys=a=>a.map(p=>p[1]);
const SANS='"Liberation Sans", Arial, sans-serif', SERIF='"Liberation Serif", serif';
const INK='#2a2a2a', AXIS='#444444';

function area(pts,fill,xa,ya,smooth){
  const x0=pts[0][0],xN=pts[pts.length-1][0],y0=pts[0][1],yN=pts[pts.length-1][1];
  return [{type:'scatter',mode:'lines',x:xs(pts),y:ys(pts),xaxis:xa,yaxis:ya,fill:'tozeroy',fillcolor:fill,
    line:{color:'#111',width:3,shape:'spline',smoothing:smooth},hoverinfo:'skip',showlegend:false},
   {type:'scatter',mode:'lines',x:[x0,x0,xN,xN],y:[y0,0,0,yN],xaxis:xa,yaxis:ya,
    line:{color:'#111',width:3},hoverinfo:'skip',showlegend:false}];
}
function hist(bins,freq,xa,ya){
  return {type:'bar',orientation:'h',y:bins,x:freq,base:freq.map(f=>-f/2),width:.025,xaxis:xa,yaxis:ya,
    marker:{color:freq,coloraxis:'coloraxis',line:{width:0}},hoverinfo:'skip',showlegend:false};
}
function plus(val,xa,ya){
  return {type:'scatter',mode:'markers',x:[0],y:[val],xaxis:xa,yaxis:ya,showlegend:false,hoverinfo:'skip',
    marker:{symbol:'cross-thin',size:57,color:'#fff',line:{color:'#fff',width:13}}};
}
const data=[
  ...area(uInfPts,'#DFF7B6','x','y',.3),...area(uBedPts,'#627A43','x','y',.3),
  ...area(urmsInfPts,'#A9C9FC','x2','y2',.3),...area(urmsBedPts,'#446D9F','x2','y2',.3),
  ...area(alphaWPts,'#FB9C1C','x3','y3',.6),...area(alphaCPts,'#E51F38','x3','y3',.6),
  hist(attenBinsD,freqD,'x4','y4'),plus(meanAlphaC,'x4','y4'),
  hist(attenBinsE,freqE,'x5','y5'),plus(meanAlphaW,'x5','y5')
];
const tf={family:SANS,size:85,color:INK};
const tit=(text,standoff,size)=>({text,standoff,font:{family:SANS,size:size||88,color:INK}});
const dayAxis=(labels,title)=>({domain:[px(296),px(3144)],range:[16.702,23.42],
  tickmode:'array',tickvals:dayTicks,ticktext:dayTicks.map(String),showticklabels:labels,tickfont:tf,ticklabelstandoff:labels?-8:0,
  ticks:'inside',ticklen:31,tickwidth:2.5,tickcolor:AXIS,mirror:'allticks',showline:true,linecolor:AXIS,linewidth:3.5,
  showgrid:true,gridcolor:'#dcdcdc',gridwidth:2,zeroline:false,title:title||undefined});
const valAxis=(top,bottom,range,vals,text,title)=>({domain:[py(bottom),py(top)],range,
  tickmode:'array',tickvals:vals,ticktext:text,tickfont:tf,
  ticks:'inside',ticklen:31,tickwidth:3,tickcolor:AXIS,mirror:'allticks',showline:true,linecolor:AXIS,linewidth:3.5,
  showgrid:true,gridcolor:'#e2e2e2',gridwidth:3.5,zeroline:false,title});
const catAxis=(l,r,half,title)=>({domain:[px(l),px(r)],range:[-half,half],showticklabels:false,ticks:'',
  showgrid:false,zeroline:false,showline:true,mirror:true,linecolor:AXIS,linewidth:3,title});
const histY=(labels,title)=>({domain:[py(3418),py(2523)],range:[0,1],tickmode:'array',tickvals:attenTicks,ticktext:attenTickText,
  showticklabels:labels,tickfont:tf,ticks:'inside',ticklen:14,tickwidth:3,tickcolor:AXIS,mirror:'allticks',showline:true,linecolor:AXIS,linewidth:3,
  showgrid:true,gridcolor:'#e2e2e2',gridwidth:3,zeroline:false,
  minor:{tickmode:'array',tickvals:attenMinor,ticks:'inside',ticklen:14,tickwidth:3,tickcolor:AXIS,showgrid:true,gridcolor:'#e2e2e2',gridwidth:3},title});

const letters=[['A',4,45],['B',4,759],['C',4,1520],['D',292,2477],['E',1135,2478]];
const annotations=letters.map(([t,x,y])=>({text:t,xref:'paper',yref:'paper',x:px(x),y:py(y),xanchor:'left',yanchor:'middle',showarrow:false,
  font:{family:SANS,size:72,color:'#000',weight:700}}));
annotations.push({text:'<i>α</i><sub><i>c</i></sub> = 0.35',xref:'paper',yref:'paper',x:px(336),y:py(3370),xanchor:'left',yanchor:'middle',showarrow:false,font:{family:SERIF,size:88,color:'#111'}});
annotations.push({text:'<i>α</i><sub><i>w</i></sub> = 0.83',xref:'paper',yref:'paper',x:px(1172),y:py(3370),xanchor:'left',yanchor:'middle',showarrow:false,font:{family:SERIF,size:88,color:'#111'}});
const swatchTops=[2690,2780,2872,2962,3052,3142];
const shapes=[{type:'rect',xref:'paper',yref:'paper',x0:px(2500),x1:px(2979),y0:py(2669),y1:py(3232),line:{color:'#555',width:4},fillcolor:'#fff',layer:'below'}];
swatchTops.forEach((t,i)=>{
  shapes.push({type:'rect',xref:'paper',yref:'paper',x0:px(2520),x1:px(2723),y0:py(t),y1:py(t+67),line:{color:'#222',width:3.5},fillcolor:legendColours[i]});
  annotations.push({text:legendLabels[i],xref:'paper',yref:'paper',x:px(2739),y:py(t+31),xanchor:'left',yanchor:'middle',showarrow:false,font:{family:SERIF,size:77,color:'#111'}});
});
freqTicks.slice(1).forEach(f=>{
  const yy=py(3416-893*f/18);
  shapes.push({type:'line',xref:'paper',yref:'paper',x0:px(2060),x1:px(2067),y0:yy,y1:yy,line:{color:AXIS,width:2.5}});
});

const layout={width:W,height:H,margin:{l:0,r:0,t:0,b:0,pad:0},paper_bgcolor:'#fff',plot_bgcolor:'#fff',showlegend:false,barmode:'overlay',bargap:0,
  xaxis:Object.assign(dayAxis(false),{anchor:'y'}),
  yaxis:Object.assign(valAxis(5,715,[0,13],speedTicks,speedTicks.map(String),tit('u [cm/s]',23,90)),{anchor:'x'}),
  xaxis2:Object.assign(dayAxis(false),{anchor:'y2'}),
  yaxis2:Object.assign(valAxis(752,1461,[0,13],speedTicks,speedTicks.map(String),tit('u<sub>rms</sub> [cm/s]',54,90)),{anchor:'x2'}),
  xaxis3:Object.assign(dayAxis(true,tit('Date in October 2015',14)),{anchor:'y3'}),
  yaxis3:Object.assign(valAxis(1495,2206,[0,1],alphaTicks,alphaTickText,tit('<span style="font-family:\'Liberation Serif\'"><i>α</i></span> [ ]',30)),{anchor:'x3'}),
  xaxis4:Object.assign(catAxis(294,1100,7.05,tit('Current-alone',29,89)),{anchor:'y4'}),
  yaxis4:Object.assign(histY(true,tit('Attenuation parameter',18,89)),{anchor:'x4'}),
  xaxis5:Object.assign(catAxis(1131,1936,10.02,tit('Wave-alone',29,89)),{anchor:'y5'}),
  yaxis5:Object.assign(histY(false),{anchor:'x5'}),
  coloraxis:{cmin:0,cmax:18,colorscale:colourFreq.map((f,i)=>[f/18,colourHex[i]]),
    colorbar:{x:px(1985),xanchor:'left',y:py(3416),yanchor:'bottom',len:893,lenmode:'pixels',thickness:82,thicknessmode:'pixels',xpad:0,ypad:0,
      tickmode:'array',tickvals:freqTicks,ticktext:freqTicks.map(String),ticks:'outside',ticklen:12,tickwidth:0,tickcolor:'#fff',
      tickfont:{family:SANS,size:74,color:INK},outlinewidth:3,outlinecolor:AXIS,
      title:{text:'Frequency (%)',side:'right',font:{family:SANS,size:72,color:INK}}}},
  annotations,shapes
};
Plotly.newPlot('chart',data,layout,{staticPlot:true,displayModeBar:false});
</script></body></html>
